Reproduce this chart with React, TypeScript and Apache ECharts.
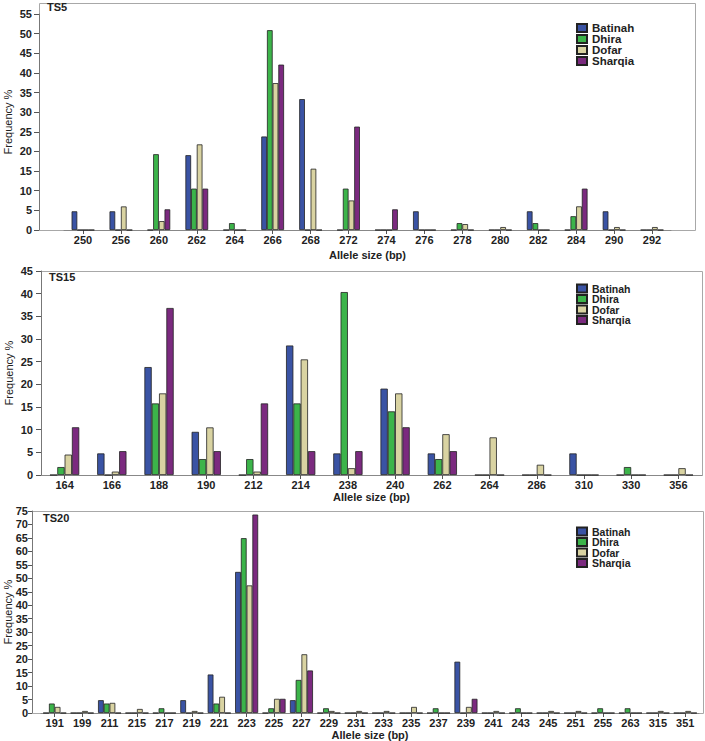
import React, { useEffect, useRef } from "react";
import * as echarts from "echarts";

const seriesNames = ["Batinah", "Dhira", "Dofar", "Sharqia"];
const seriesColors = ["#3A53A4", "#3CB44A", "#D9D3A2", "#7B2A7F"];

// TS5
const ts5Alleles = ["250", "256", "260", "262", "264", "266", "268", "272", "274", "276", "278", "280", "282", "284", "290", "292"];
const ts5Batinah = [4.76, 4.76, 0, 19.05, 0, 23.81, 33.33, 0, 0, 4.76, 0, 0, 4.76, 0, 4.76, 0];
const ts5Dhira = [0, 0, 19.3, 10.53, 1.75, 50.88, 0, 10.53, 0, 0, 1.75, 0, 1.75, 3.51, 0, 0];
const ts5Dofar = [0, 6.0, 2.26, 21.8, 0, 37.4, 15.6, 7.52, 0, 0, 1.5, 0.75, 0, 6.02, 0.75, 0.75];
const ts5Sharqia = [0, 0, 5.26, 10.53, 0, 42.11, 0, 26.32, 5.26, 0, 0, 0, 0, 10.53, 0, 0];
const ts5Max = 55;

// TS15
const ts15Alleles = ["164", "166", "188", "190", "212", "214", "238", "240", "262", "264", "286", "310", "330", "356"];
const ts15Batinah = [0, 4.76, 23.81, 9.52, 0, 28.57, 4.76, 19.05, 4.76, 0, 0, 4.76, 0, 0];
const ts15Dhira = [1.75, 0, 15.79, 3.51, 3.51, 15.79, 40.35, 14.04, 3.51, 0, 0, 0, 1.75, 0];
const ts15Dofar = [4.5, 0.75, 18.0, 10.5, 0.75, 25.5, 1.5, 18.0, 9.0, 8.3, 2.26, 0, 0, 1.5];
const ts15Sharqia = [10.53, 5.26, 36.84, 5.26, 15.79, 5.26, 5.26, 10.53, 5.26, 0, 0, 0, 0, 0];
const ts15Max = 45;

// TS20
const ts20Alleles = ["191", "199", "211", "215", "217", "219", "221", "223", "225", "227", "229", "231", "233", "235", "237", "239", "241", "243", "245", "251", "255", "263", "315", "351"];
const ts20Batinah = [0, 0, 4.76, 0, 0, 4.76, 14.29, 52.38, 0, 4.76, 0, 0, 0, 0, 0, 19.05, 0, 0, 0, 0, 0, 0, 0, 0];
const ts20Dhira = [3.51, 0, 3.51, 0, 1.75, 0, 3.51, 64.91, 1.75, 12.28, 1.75, 0, 0, 0, 1.75, 0, 0, 1.75, 0, 0, 1.75, 1.75, 0, 0];
const ts20Dofar = [2.26, 0.75, 3.76, 1.5, 0, 0.75, 6.02, 47.37, 5.26, 21.8, 0.75, 0.75, 0.75, 2.26, 0, 2.26, 0.75, 0, 0.75, 0.75, 0, 0, 0.75, 0.75];
const ts20Sharqia = [0, 0, 0, 0, 0, 0, 0, 73.68, 5.26, 15.79, 0, 0, 0, 0, 0, 5.26, 0, 0, 0, 0, 0, 0, 0, 0];
const ts20Max = 75;

const tickStep = 5;
const panelTitles = ["TS5", "TS15", "TS20"];
const xAxisName = "Allele size (bp)";
const yAxisName = "Frequency %";

const FONT = "'Liberation Sans', Arial, sans-serif";

export default function App() {
  const ref = useRef<HTMLDivElement>(null);

  useEffect(() => {
    if (!ref.current) return;
    const chart = echarts.init(ref.current, null, { renderer: "svg" });

    const panels = [
      {
        cats: ts5Alleles,
        data: [ts5Batinah, ts5Dhira, ts5Dofar, ts5Sharqia],
        max: ts5Max,
        grid: { left: 64, top: 14, width: 607, height: 216 },
        yOffset: 25,
        gap: "40%",
        labelMargin: 7,
        tickLen: 5,
        nameGapX: 19,
        nameGapY: 26,
        legendTop: 22,
        legendGap: -1,
        legendFont: 11.5,
        frame: { x: 39, y: 3, w: 656, h: 227 },
        title: { left: 47, top: 1 },
      },
      {
        cats: ts15Alleles,
        data: [ts15Batinah, ts15Dhira, ts15Dofar, ts15Sharqia],
        max: ts15Max,
        grid: { left: 41, top: 271, width: 661, height: 204 },
        yOffset: 0,
        gap: "38%",
        labelMargin: 8,
        tickLen: 5,
        nameGapX: 16,
        nameGapY: 27,
        legendTop: 283,
        legendGap: -0.5,
        legendFont: 10.5,
        frame: { x: 41, y: 271, w: 661, h: 204 },
        title: { left: 49, top: 271 },
      },
      {
        cats: ts20Alleles,
        data: [ts20Batinah, ts20Dhira, ts20Dofar, ts20Sharqia],
        max: ts20Max,
        grid: { left: 41, top: 511, width: 658, height: 202 },
        yOffset: 9,
        gap: "16%",
        labelMargin: 4,
        tickLen: 4,
        nameGapX: 16,
        nameGapY: 19,
        legendTop: 526,
        legendGap: -0.5,
        legendFont: 10.5,
        frame: { x: 32, y: 511, w: 671, h: 202 },
        title: { left: 43, top: 512 },
      },
    ];

    const option: any = {
      animation: false,
      backgroundColor: "#ffffff",
      title: panels.map((p, i) => ({
        text: panelTitles[i],
        left: p.title.left,
        top: p.title.top,
        padding: 0,
        textStyle: { fontSize: 11, fontWeight: "bold", fontFamily: FONT, color: "#222" },
      })),
      legend: panels.map((p) => ({
        data: seriesNames,
        orient: "vertical",
        left: 576,
        top: p.legendTop,
        padding: 0,
        itemWidth: 10,
        itemHeight: 8,
        itemGap: p.legendGap,
        icon: "rect",
        textStyle: { fontSize: p.legendFont, fontWeight: "bold", fontFamily: FONT, color: "#222" },
      })),
      graphic: panels.map((p) => ({
        type: "rect",
        silent: true,
        z: 0,
        shape: { x: p.frame.x + 0.5, y: p.frame.y + 0.5, width: p.frame.w, height: p.frame.h },
        style: { fill: "none", stroke: "#a8a8a8", lineWidth: 1 },
      })),
      grid: panels.map((p) => ({ ...p.grid, containLabel: false, outerBoundsMode: "none" })),
      xAxis: panels.map((p, i) => ({
        type: "category",
        gridIndex: i,
        data: p.cats,
        name: xAxisName,
        nameLocation: "middle",
        nameGap: p.nameGapX,
        nameMoveOverlap: false,
        nameTextStyle: { fontSize: 11, fontWeight: "bold", fontFamily: FONT, color: "#222" },
        axisLine: { show: true, lineStyle: { color: "#888", width: 1 } },
        axisTick: { show: true, alignWithLabel: true, interval: 0, length: 4, lineStyle: { color: "#555" } },
        axisLabel: { interval: 0, margin: 4, fontSize: 11, fontWeight: "bold", fontFamily: FONT, color: "#222" },
        splitLine: { show: false },
      })),
      yAxis: panels.map((p, i) => ({
        type: "value",
        gridIndex: i,
        min: 0,
        max: p.max,
        interval: tickStep,
        offset: p.yOffset,
        name: yAxisName,
        nameLocation: "middle",
        nameGap: p.nameGapY,
        nameMoveOverlap: false,
        nameTextStyle: { fontSize: 11, fontFamily: "'Liberation Sans Narrow', " + FONT, color: "#222" },
        axisLine: { show: true, lineStyle: { color: "#777", width: 1 } },
        axisTick: { show: true, length: p.tickLen, lineStyle: { color: "#555" } },
        axisLabel: {
          margin: p.labelMargin,
          fontSize: 11,
          fontWeight: "bold",
          fontFamily: FONT,
          color: "#222",
        },
        splitLine: { show: false },
      })),
      series: panels.flatMap((p, i) =>
        seriesNames.map((name, k) => ({
          name,
          type: "bar",
          xAxisIndex: i,
          yAxisIndex: i,
          data: p.data[k],
          barGap: "0%",
          barCategoryGap: p.gap,
          itemStyle: { color: seriesColors[k], borderColor: "#222", borderWidth: 0.8 },
          emphasis: { disabled: true },
        }))
      ),
    };

    chart.setOption(option);
    return () => chart.dispose();
  }, []);

  return <div ref={ref} style={{ position: "fixed", left: 0, top: 0, width: 705, height: 741 }} />;
}
